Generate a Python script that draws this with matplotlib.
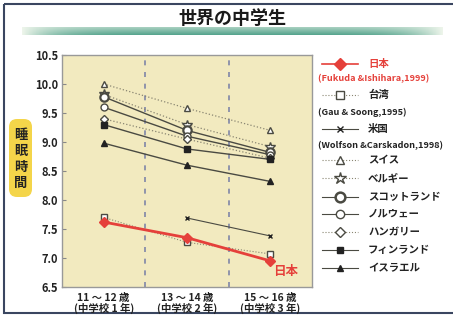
import numpy as np
import matplotlib
matplotlib.use("Agg")
import matplotlib.pyplot as plt
from matplotlib.patches import FancyBboxPatch, Rectangle

plt.rcParams['font.family'] = ['Noto Sans CJK JP', 'DejaVu Sans']
plt.rcParams['font.weight'] = 'bold'

# ---- data ----
categories = ["11 〜 12 歳\n(中学校 1 年)", "13 〜 14 歳\n(中学校 2 年)", "15 〜 16 歳\n(中学校 3 年)"]
japan = [7.62, 7.35, 6.95]
taiwan = [7.70, 7.27, 7.07]
usa = [np.nan, 7.69, 7.38]
swiss = [10.0, 9.58, 9.20]
belgium = [9.82, 9.30, 8.92]
scotland = [9.78, 9.20, 8.82]
norway = [9.60, 9.10, 8.78]
hungary = [9.40, 9.05, 8.72]
finland = [9.30, 8.88, 8.70]
israel = [8.98, 8.60, 8.32]
yticks = [6.5, 7.0, 7.5, 8.0, 8.5, 9.0, 9.5, 10.0, 10.5]

W, H = 453, 317
fig = plt.figure(figsize=(W / 100, H / 100), dpi=100)
fig.patch.set_facecolor('white')

def fx(px):
    return px / W

def fy(py):
    return 1 - py / H

red = '#e5403a'
dark = '#4a4a42'
dot = '#8a8672'

# main axes
ax = fig.add_axes([fx(62), fy(287), fx(312) - fx(62), fy(55) - fy(287)])
ax.set_facecolor('#f2eabf')
x = np.arange(len(categories))

series = [
    (swiss, dict(ls=':', color=dot, marker='^', mfc='white', mec=dark, ms=5, lw=0.9)),
    (belgium, dict(ls=':', color=dot, marker='*', mfc='white', mec=dark, ms=7, lw=0.9)),
    (scotland, dict(ls='-', color=dark, marker='o', mfc='white', mec=dark, ms=6, mew=1.6, lw=1.0)),
    (norway, dict(ls='-', color=dark, marker='o', mfc='white', mec=dark, ms=5, lw=1.0)),
    (hungary, dict(ls=':', color=dot, marker='D', mfc='white', mec=dark, ms=4, lw=0.9)),
    (finland, dict(ls='-', color=dark, marker='s', mfc='#222222', mec='#222222', ms=4, lw=1.0)),
    (israel, dict(ls='-', color=dark, marker='^', mfc='#222222', mec='#222222', ms=4.5, lw=1.0)),
    (usa, dict(ls='-', color=dark, marker='x', mec='#222222', ms=3.5, lw=0.8)),
    (taiwan, dict(ls=':', color=dot, marker='s', mfc='white', mec=dark, ms=5, lw=0.8)),
    (japan, dict(ls='-', color=red, marker='D', mfc=red, mec=red, ms=5.5, lw=2.0)),
]
for vals, kw in series:
    ax.plot(x, vals, **kw)

ax.set_xlim(-0.5, 2.5)
ax.set_ylim(6.5, 10.5)
ax.set_yticks(yticks)
ax.set_yticklabels([f"{v:.1f}" for v in yticks], fontsize=8, fontweight='bold', color='#222222')
ax.set_xticks(x)
ax.set_xticklabels(categories, fontsize=7.5, fontweight='bold', color='#222222', linespacing=1.05)
ax.tick_params(axis='y', direction='in', length=3, width=0.8, color='#888888', pad=3)
ax.tick_params(axis='x', length=0, pad=4)
for b in [0.5, 1.5]:
    ax.axvline(b, color='#7f86a8', ls=(0, (3, 4)), lw=1.2, zorder=0)
for s in ax.spines.values():
    s.set_color('#999999')
    s.set_linewidth(1.0)

ax.text(x[-1] + 0.18, japan[-1] - 0.19, "日本", color=red, fontsize=9, fontweight='bold',
        ha='center', va='center')

# overlay axes in pixel coordinates for decoration and legend
ov = fig.add_axes([0, 0, 1, 1], zorder=-1)
ov.set_xlim(0, W)
ov.set_ylim(H, 0)
ov.axis('off')

# border
ov.add_patch(Rectangle((3.5, 3.5), W + 5, 309.5, fill=False, ec='#3a4660', lw=1.5))

# title gradient bar
gx = np.linspace(-1, 1, 300)
gy = np.linspace(0, 1, 20)
GX, GY = np.meshgrid(gx, gy)
wt = (1 - np.abs(GX) ** 6) * (0.45 + 0.55 * GY)
c0 = np.array([0.93, 0.96, 0.92])
c1 = np.array([0.33, 0.64, 0.55])
img = c0[None, None, :] * (1 - wt[..., None]) + c1[None, None, :] * wt[..., None]
ov.imshow(img, extent=(22, 443, 35, 27), aspect='auto', zorder=1)
ov.text(232, 19, "世界の中学生", fontsize=13, fontweight='bold', ha='center', va='center',
        color='#1a1a1a', zorder=3)

# y label box
ov.add_patch(FancyBboxPatch((9, 119), 23, 78, boxstyle="round,pad=0,rounding_size=8",
                            fc='#f4d54a', ec='none', zorder=1))
for i, ch in enumerate("睡眠時間"):
    ov.text(20.5, 135 + i * 16, ch, fontsize=9.5, fontweight='bold', ha='center', va='center',
            color='#222222', zorder=3)

# legend
hx0, hx1, hm, tx = 322, 358, 340, 368
legend_items = [
    (64, "日本", dict(ls='-', color=red, lw=1.2, marker='D', mfc=red, mec=red, ms=6), red),
    (95, "台湾", dict(ls=':', color=dot, lw=0.8, marker='s', mfc='white', mec=dark, ms=6), '#222222'),
    (129, "米国", dict(ls='-', color=dark, lw=0.8, marker='x', mec='#222222', ms=4), '#222222'),
    (160, "スイス", dict(ls=':', color=dot, lw=0.8, marker='^', mfc='white', mec=dark, ms=6), '#222222'),
    (178, "ベルギー", dict(ls=':', color=dot, lw=0.8, marker='*', mfc='white', mec=dark, ms=9), '#222222'),
    (197, "スコットランド", dict(ls='-', color=dark, lw=0.8, marker='o', mfc='white', mec=dark, ms=7, mew=1.8), '#222222'),
    (214, "ノルウェー", dict(ls='-', color=dark, lw=0.8, marker='o', mfc='white', mec=dark, ms=6), '#222222'),
    (232, "ハンガリー", dict(ls=':', color=dot, lw=0.8, marker='D', mfc='white', mec=dark, ms=5), '#222222'),
    (250, "フィンランド", dict(ls='-', color=dark, lw=0.8, marker='s', mfc='#222222', mec='#222222', ms=5), '#222222'),
    (268, "イスラエル", dict(ls='-', color=dark, lw=0.8, marker='^', mfc='#222222', mec='#222222', ms=5), '#222222'),
]
for yy, lab, kw, tc in legend_items:
    ov.plot([hx0, hx1], [yy, yy], **{k: v for k, v in kw.items() if k in ('ls', 'color', 'lw')}, zorder=2)
    mk = {k: v for k, v in kw.items() if k not in ('ls', 'color', 'lw')}
    ov.plot([hm], [yy], ls='none', **mk, zorder=3)
    ov.text(tx, yy, lab, fontsize=7.5, fontweight='bold', color=tc, ha='left', va='center', zorder=3)

citations = [(79, "(Fukuda &Ishihara,1999)", red), (112, "(Gau & Soong,1995)", '#222222'),
             (146, "(Wolfson &Carskadon,1998)", '#222222')]
for yy, lab, tc in citations:
    ov.text(318, yy, lab, fontsize=6.6, fontweight='bold', color=tc, ha='left', va='center', zorder=3)

fig.savefig("out.png", dpi=100, facecolor='white')
